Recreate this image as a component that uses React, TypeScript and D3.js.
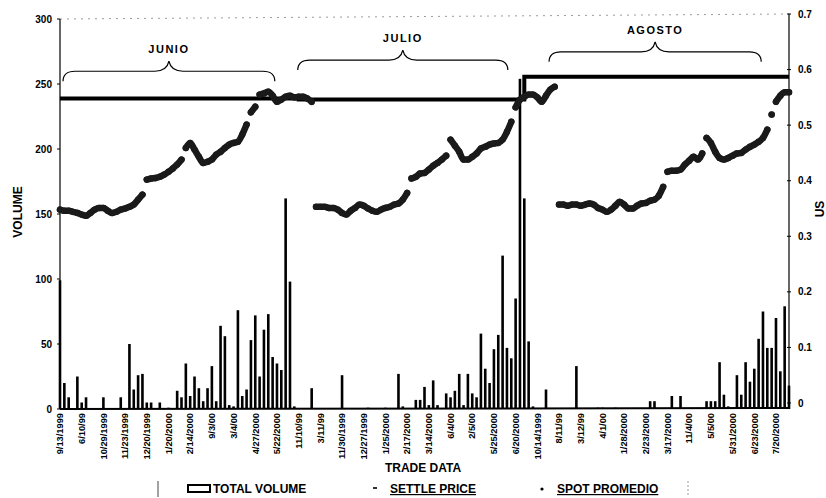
import React from "react";
import * as d3 from "d3";

// ---------- DATA ----------
// total volume per trade-date category (0..168)
const volume = [
  99, 20, 9, 0, 25, 5, 9, 0, 0, 0,
  9, 0, 0, 0, 9, 0, 50, 15, 26, 27,
  5, 5, 0, 5, 0, 1, 0, 14, 9, 35,
  10, 25, 16, 6, 16, 33, 6, 64, 56, 3,
  2, 76, 10, 15, 53, 72, 25, 61, 73, 40,
  35, 30, 162, 98, 2, 0, 0, 0, 16, 0,
  0, 0, 0, 0, 0, 26, 0, 0, 0, 0,
  0, 1, 0, 0, 0, 1, 0, 0, 27, 2,
  0, 0, 7, 7, 17, 3, 22, 3, 0, 12,
  9, 14, 27, 3, 27, 12, 9, 58, 31, 20,
  46, 57, 118, 47, 39, 85, 254, 162, 52, 2,
  0, 0, 15, 0, 0, 0, 0, 0, 0, 33,
  0, 0, 0, 0, 1, 1, 0, 0, 1, 0,
  0, 0, 0, 0, 0, 0, 6, 6, 0, 0,
  0, 10, 0, 10, 0, 0, 0, 0, 0, 6,
  6, 6, 36, 11, 2, 0, 26, 11, 36, 21,
  31, 54, 75, 47, 47, 70, 29, 79, 18,
];

// spot promedio (US) for each contract, starting at category spotStart[k]
const spotJunio = [
  0.348, 0.346, 0.346, 0.344, 0.342, 0.339, 0.337, 0.342, 0.348, 0.351,
  0.351, 0.346, 0.342, 0.344, 0.348, 0.35, 0.353, 0.357, 0.366, 0.375,
  0.402, 0.404, 0.405, 0.407, 0.411, 0.416, 0.422, 0.429, 0.438, 0.459,
  0.468, 0.456, 0.443, 0.432, 0.434, 0.438, 0.447, 0.452, 0.459, 0.465,
  0.468, 0.47, 0.483, 0.501, 0.523, 0.533, 0.555, 0.557, 0.56, 0.553,
  0.542, 0.546, 0.551, 0.553, 0.55, 0.551, 0.551, 0.548, 0.542,
];
const spotJulio = [
  0.353, 0.353, 0.353, 0.351, 0.351, 0.348, 0.342, 0.339, 0.346, 0.351,
  0.357, 0.355, 0.35, 0.346, 0.344, 0.348, 0.351, 0.353, 0.357, 0.359,
  0.366, 0.378, 0.404, 0.407, 0.413, 0.414, 0.42, 0.427, 0.432, 0.438,
  0.445, 0.474, 0.463, 0.452, 0.438, 0.438, 0.443, 0.449, 0.458, 0.461,
  0.465, 0.467, 0.468, 0.474, 0.488, 0.506, 0.532, 0.546, 0.551, 0.555,
  0.555, 0.55, 0.542, 0.553, 0.564, 0.569,
];
const spotAgosto = [
  0.357, 0.357, 0.355, 0.357, 0.357, 0.355, 0.357, 0.359, 0.357, 0.351,
  0.348, 0.344, 0.348, 0.355, 0.362, 0.357, 0.35, 0.35, 0.355, 0.359,
  0.36, 0.364, 0.366, 0.373, 0.389, 0.416, 0.418, 0.418, 0.42, 0.429,
  0.436, 0.443, 0.438, 0.449, 0.477, 0.468, 0.452, 0.441, 0.438, 0.441,
  0.445, 0.449, 0.45, 0.456, 0.461, 0.465, 0.47, 0.477, 0.492, 0.519,
  0.542, 0.553, 0.559, 0.559,
];
const spotSeries = [spotJunio, spotJulio, spotAgosto];
const spotStart = [0, 59, 115];

// settle price per contract, starting at category settleStart[k]
const settlePrice = [0.548, 0.546, 0.587];
const settleStart = [0, 55, 107];

const contracts = ["JUNIO", "JULIO", "AGOSTO"];

const xTickLabels = [
  "9/13/1999", "6/10/99", "10/29/1999", "11/23/1999", "12/20/1999", "1/20/2000",
  "2/14/2000", "9/3/00", "3/4/00", "4/27/2000", "5/22/2000", "11/10/99",
  "3/11/99", "11/30/1999", "12/27/1999", "1/25/2000", "2/17/2000", "3/14/2000",
  "6/4/00", "2/5/00", "5/25/2000", "6/20/2000", "10/14/1999", "8/11/99",
  "3/12/99", "4/1/00", "1/28/2000", "2/23/2000", "3/17/2000", "11/4/00",
  "5/5/00", "5/31/2000", "6/23/2000", "7/20/2000",
];
const leftTicks = [0, 50, 100, 150, 200, 250, 300];
const rightTicks = [0, 0.1, 0.2, 0.3, 0.4, 0.5, 0.6, 0.7];

// ---------- CHART ----------
const W = 826;
const H = 498;
const FONT = "'Liberation Sans', Arial, sans-serif";

type P = { i: number; v: number };

export default function App() {
  const lastIdx = volume.length - 1;
  const x = d3.scaleLinear().domain([0, lastIdx]).range([60, 789]);
  const yL = d3.scaleLinear().domain([0, 300]).range([409, 19]);
  const yR = d3.scaleLinear().domain([0, 0.7]).range([403, 14]);

  // spot segments (break at gaps between markers)
  const segments: P[][] = [];
  spotSeries.forEach((arr, k) => {
    let cur: P[] = [];
    arr.forEach((v, j) => {
      const p = { i: spotStart[k] + j, v };
      if (cur.length && Math.abs(cur[cur.length - 1].v - v) > 0.02) {
        segments.push(cur);
        cur = [];
      }
      cur.push(p);
    });
    if (cur.length) segments.push(cur);
  });
  const spotLine = d3
    .line<P>()
    .x((d) => x(d.i))
    .y((d) => yR(d.v))
    .curve(d3.curveMonotoneX);

  const settlePts: P[] = settleStart.map((s, k) => ({ i: s, v: settlePrice[k] }));
  settlePts.push({ i: lastIdx, v: settlePrice[settlePrice.length - 1] });
  const settleLine = d3
    .line<P>()
    .x((d) => x(d.i))
    .y((d) => yR(d.v))
    .curve(d3.curveStepAfter);

  // brace annotations (category span, level on right axis)
  const braceFrom = [0.7, 54.8, 112.7];
  const braceTo = [49.5, 103.2, 161.6];
  const braceLevel = [0.597, 0.617, 0.632];

  const bracePath = (xs: number, xe: number, yf: number) => {
    const xm = (xs + xe) / 2;
    const d = 10;
    return `M${xs},${yf + d} Q${xs},${yf} ${xs + 12},${yf} L${xm - 14},${yf} Q${xm - 2},${yf} ${xm},${yf - d} Q${xm + 2},${yf} ${xm + 14},${yf} L${xe - 12},${yf} Q${xe},${yf} ${xe},${yf + d}`;
  };

  const barW = 2.6;

  return (
    <svg
      width={W}
      height={H}
      style={{ position: "absolute", left: 0, top: 0, background: "#fff" }}
      fontFamily={FONT}
      fontWeight="bold"
    >
      <rect x={0} y={0} width={W} height={H} fill="#fff" />

      {/* plot top border (dotted) */}
      <line
        x1={x(0)}
        y1={yL(300)}
        x2={x(lastIdx)}
        y2={yR(0.7)}
        stroke="#9a9a9a"
        strokeWidth={1}
        strokeDasharray="2,5"
      />

      {/* volume bars */}
      {volume.map((v, i) =>
        v > 0 ? (
          <rect
            key={"b" + i}
            x={x(i) - barW / 2}
            y={yL(v)}
            width={barW}
            height={yL(0) - yL(v)}
            fill="#000"
          />
        ) : null
      )}

      {/* axes */}
      <line x1={x(0)} y1={yL(0)} x2={x(0)} y2={yL(300)} stroke="#000" strokeWidth={1.2} />
      <line x1={x(lastIdx)} y1={yR(0)} x2={x(lastIdx)} y2={yR(0.7)} stroke="#000" strokeWidth={1.2} />
      <line x1={x(0)} y1={yL(0)} x2={x(lastIdx)} y2={yL(0) - 1} stroke="#000" strokeWidth={2} />

      {leftTicks.map((t) => (
        <g key={"lt" + t}>
          <line x1={x(0) - 3} x2={x(0)} y1={yL(t)} y2={yL(t)} stroke="#000" />
          <text x={x(0) - 8} y={yL(t)} dy="0.35em" textAnchor="end" fontSize={10}>
            {t}
          </text>
        </g>
      ))}
      {rightTicks.map((t) => (
        <g key={"rt" + t}>
          <line x1={x(lastIdx) - 2} x2={x(lastIdx) + 2} y1={yR(t)} y2={yR(t)} stroke="#000" />
          <text x={x(lastIdx) + 9} y={yR(t)} dy="0.35em" textAnchor="start" fontSize={10}>
            {t === 0 ? "0" : t.toFixed(1)}
          </text>
        </g>
      ))}

      {/* x tick labels */}
      {xTickLabels.map((lab, k) => {
        const xi = x(k * 5);
        return (
          <text
            key={"xl" + k}
            transform={`translate(${xi},${yL(0) + 4}) rotate(-90)`}
            textAnchor="end"
            dy="0.35em"
            fontSize={9.3}
          >
            {lab}
          </text>
        );
      })}

      {/* settle price */}
      <path d={settleLine(settlePts) || ""} fill="none" stroke="#000" strokeWidth={4} />

      {/* spot promedio */}
      {segments.map((seg, k) => (
        <path
          key={"s" + k}
          d={spotLine(seg) || ""}
          fill="none"
          stroke="#1a1a1a"
          strokeWidth={6.5}
          strokeLinecap="round"
          strokeLinejoin="round"
        />
      ))}
      {segments.map((seg, k) =>
        seg.map((p) => (
          <circle key={"c" + k + "-" + p.i} cx={x(p.i)} cy={yR(p.v)} r={3.2} fill="#1a1a1a" />
        ))
      )}

      {/* braces */}
      {contracts.map((c, k) => {
        const xs = x(braceFrom[k]);
        const xe = x(braceTo[k]);
        const yf = yR(braceLevel[k]);
        return (
          <g key={"br" + c}>
            <path d={bracePath(xs, xe, yf)} fill="none" stroke="#000" strokeWidth={1.2} />
            <text
              x={(xs + xe) / 2}
              y={yf - 18}
              textAnchor="middle"
              fontSize={11}
              letterSpacing={1.5}
            >
              {c}
            </text>
          </g>
        );
      })}

      {/* axis titles */}
      <text transform="translate(22,212) rotate(-90)" textAnchor="middle" fontSize={12}>
        VOLUME
      </text>
      <text transform="translate(824,209) rotate(-90)" textAnchor="middle" fontSize={12}>
        US
      </text>
      <text x={423} y={472} textAnchor="middle" fontSize={12}>
        TRADE DATA
      </text>

      {/* legend */}
      <line x1={158} x2={158} y1={481} y2={497} stroke="#444" strokeWidth={1} />
      <rect x={188} y={485} width={22} height={7} fill="#fff" stroke="#000" strokeWidth={2} />
      <text x={213} y={493} fontSize={12}>
        TOTAL VOLUME
      </text>
      <rect x={373} y={487} width={4} height={2} fill="#333" />
      <text x={390} y={493} fontSize={12} textDecoration="underline">
        SETTLE PRICE
      </text>
      <circle cx={542} cy={489} r={1.6} fill="#000" />
      <text x={557} y={493} fontSize={12} textDecoration="underline">
        SPOT PROMEDIO
      </text>
      <line
        x1={688}
        x2={688}
        y1={481}
        y2={497}
        stroke="#999"
        strokeWidth={1}
        strokeDasharray="2,2"
      />
    </svg>
  );
}
